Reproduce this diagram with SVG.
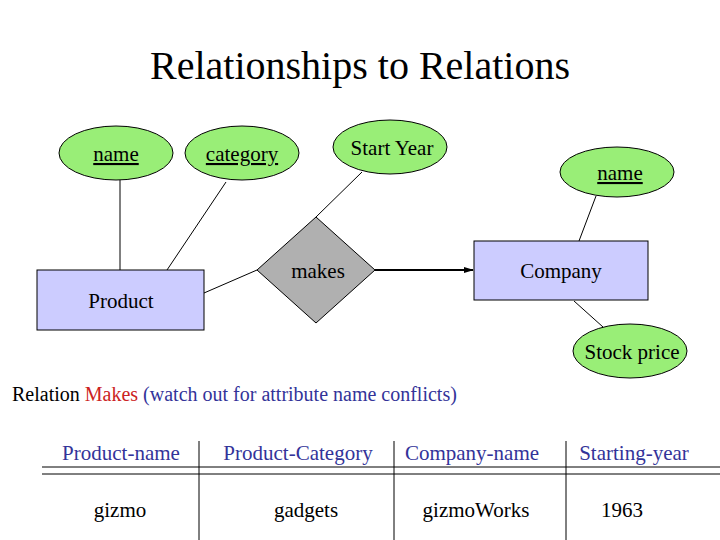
<svg xmlns="http://www.w3.org/2000/svg" width="720" height="540" viewBox="0 0 720 540" font-family="'Liberation Serif','Times New Roman','DejaVu Serif',serif">
<style>
text{font-family:"Liberation Serif","Times New Roman","DejaVu Serif",serif;font-size:21px;text-anchor:middle}
.at{fill:#99ee77;stroke:#000;stroke-width:1}
.ent{fill:#ccccff;stroke:#000;stroke-width:1}
.l{stroke:#000;stroke-width:1;fill:none}
.b{fill:#333399}
</style>
<defs><marker id="ar" markerWidth="10" markerHeight="8" refX="9" refY="4" orient="auto" markerUnits="userSpaceOnUse"><path d="M0,1 L10,4 L0,7Z" fill="#000"/></marker></defs>
<rect width="720" height="540" fill="#fff"/>
<text x="360" y="79" style="font-size:40px">Relationships to Relations</text>
<g id="connectors">
<line class="l" x1="120" y1="180" x2="120" y2="270"/>
<line class="l" x1="226" y1="182" x2="167" y2="270"/>
<line class="l" x1="362" y1="172" x2="316" y2="217"/>
<line class="l" x1="204" y1="293" x2="257" y2="270"/>
<line class="l" x1="596" y1="196" x2="579" y2="241"/>
<line class="l" x1="574" y1="301" x2="603" y2="327"/>
<line x1="375" y1="270" x2="473" y2="270" stroke="#000" stroke-width="2" marker-end="url(#ar)"/>
</g>
<g id="attr-name"><ellipse class="at" cx="116" cy="153" rx="57" ry="27"/><text x="116" y="161" text-decoration="underline"> name </text></g>
<g id="attr-category"><ellipse class="at" cx="242" cy="153" rx="57" ry="27"/><text x="242" y="161" text-decoration="underline">category</text></g>
<g id="attr-startyear"><ellipse class="at" cx="390" cy="147" rx="57" ry="27"/><text x="392" y="155">Start Year</text></g>
<g id="attr-cname"><ellipse class="at" cx="617" cy="172" rx="57" ry="25"/><text x="620" y="180" text-decoration="underline"> name </text></g>
<g id="attr-stock"><ellipse class="at" cx="630" cy="351" rx="57" ry="27"/><text x="632" y="359">Stock price</text></g>
<g id="product"><rect class="ent" x="37" y="270" width="167" height="60"/><text x="121" y="308">Product</text></g>
<g id="makes"><polygon points="316,217 375,270 316,323 257,270" fill="#b0b0b0" stroke="#000"/><text x="318" y="278">makes</text></g>
<g id="company"><rect class="ent" x="474" y="241" width="174" height="59"/><text x="561" y="278">Company</text></g>
<text x="12" y="401" style="text-anchor:start;font-size:20px">Relation <tspan fill="#cc2222">Makes</tspan> <tspan fill="#333399">(watch out for attribute name conflicts)</tspan></text>
<g id="table">
<text class="b" x="121" y="460">Product-name</text>
<text class="b" x="298" y="460">Product-Category</text>
<text class="b" x="472" y="460">Company-name</text>
<text class="b" x="634" y="460">Starting-year</text>
<line class="l" x1="42" y1="467" x2="720" y2="467"/>
<line class="l" x1="42" y1="474" x2="720" y2="474"/>
<line class="l" x1="199" y1="441" x2="199" y2="540"/>
<line class="l" x1="394" y1="441" x2="394" y2="540"/>
<line class="l" x1="566" y1="441" x2="566" y2="540"/>
<text x="120" y="517">gizmo</text>
<text x="306" y="517">gadgets</text>
<text x="476" y="517">gizmoWorks</text>
<text x="622" y="517">1963</text>
</g>
</svg>
